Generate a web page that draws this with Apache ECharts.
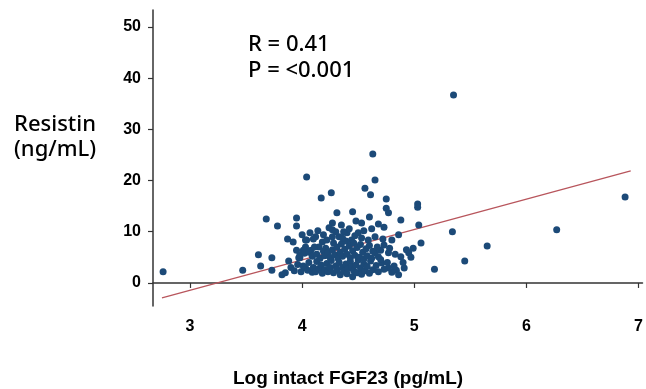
<!DOCTYPE html>
<html>
<head>
<meta charset="utf-8">
<script src="https://cdn.jsdelivr.net/npm/echarts@6/dist/echarts.min.js"></script>
<style>html,body{margin:0;padding:0;background:#fff;}#c{width:646px;height:389px;}</style>
</head>
<body>
<div id="c"></div>
<script>
var xTicks = [3, 4, 5, 6, 7];
var yTicks = [0, 10, 20, 30, 40, 50];

var fgf23 = [
  2.76, 3.47, 3.61, 3.63, 3.68, 3.73, 3.73, 3.78, 3.82, 3.85, 3.88, 3.87, 3.92, 3.95, 3.95, 3.95, 3.97, 4.00, 4.03, 4.03,
  4.03, 4.04, 4.08, 4.09, 4.12, 4.17, 4.18, 4.26, 4.27, 4.27, 4.31, 4.35, 4.45, 4.48, 4.53, 4.56, 4.60, 4.61, 4.63, 4.65,
  4.73, 4.75, 4.75, 4.77, 4.88, 5.03, 5.03, 5.04, 5.06, 4.99, 4.95, 4.97, 4.88, 4.91, 4.84, 4.86, 4.80, 4.77, 4.77, 4.80,
  4.86, 4.73, 4.70, 4.68, 4.65, 4.59, 4.65, 4.53, 4.50, 4.44, 4.40, 4.37, 4.33, 4.30, 4.27, 4.28, 4.22, 4.21, 4.15, 4.11,
  4.04, 4.01, 3.98, 5.18, 5.34, 5.35, 5.45, 5.65, 6.27, 6.88,
  3.90, 3.93, 3.96, 3.99, 4.01, 4.05, 4.06, 4.10, 4.12, 4.13, 4.15, 4.17, 4.18, 4.20, 4.22, 4.23, 4.25, 4.26, 4.28, 4.30,
  4.31, 4.33, 4.34, 4.36, 4.37, 4.39, 4.40, 4.41, 4.43, 4.44, 4.45, 4.46, 4.48, 4.49, 4.50, 4.52, 4.53, 4.55, 4.56, 4.58,
  4.60, 4.61, 4.63, 4.66, 4.68, 4.71, 4.73, 4.76, 4.82, 4.90,
  3.98, 4.02, 4.06, 4.09, 4.13, 4.16, 4.19, 4.20, 4.23, 4.25, 4.27, 4.29, 4.31, 4.32, 4.34, 4.35, 4.36, 4.38, 4.39, 4.40,
  4.42, 4.43, 4.45, 4.46, 4.47, 4.49, 4.51, 4.52, 4.54, 4.55, 4.57, 4.58, 4.60, 4.62, 4.63, 4.67, 4.70, 4.72, 4.78, 4.83, 4.93,
  4.07, 4.10, 4.14, 4.19, 4.24, 4.36, 4.42, 4.47, 4.55, 4.62, 4.68
];
var resistin = [
  2.2, 2.5, 5.5, 3.3, 12.5, 4.9, 2.5, 11.1, 1.6, 2.0, 4.3, 8.6, 8.0, 12.7, 11.1, 6.4, 4.9, 9.4, 8.4, 7.0,
  2.9, 20.7, 6.4, 2.1, 9.0, 16.6, 8.0, 17.6, 11.7, 10.4, 13.7, 11.3, 13.9, 12.1, 11.7, 18.5, 12.9, 17.2, 25.2, 20.1,
  10.9, 16.4, 14.6, 13.7, 12.3, 15.4, 14.8, 11.3, 7.8, 6.8, 5.9, 5.0, 5.1, 2.9, 2.5, 1.6, 2.1, 2.9, 5.9, 8.4,
  9.4, 7.4, 6.4, 5.1, 5.9, 8.4, 9.0, 8.8, 9.8, 8.4, 9.8, 10.0, 9.0, 10.0, 9.0, 7.8, 8.4, 6.8, 7.0, 7.0,
  8.4, 6.4, 4.9, 2.7, 10.0, 36.7, 4.3, 7.2, 10.4, 16.8,
  3.0, 2.4, 3.6, 2.2, 3.3, 2.5, 4.0, 3.0, 2.2, 4.2, 2.8, 3.5, 1.9, 2.6, 3.8, 2.2, 3.0, 4.4, 2.0, 3.3,
  2.6, 4.0, 1.6, 3.0, 2.3, 3.7, 1.8, 2.8, 4.2, 3.1, 1.2, 2.4, 3.5, 2.0, 4.5, 2.9, 1.7, 3.7, 2.4, 3.2,
  1.9, 4.3, 2.6, 3.4, 2.2, 3.9, 2.7, 4.0, 3.3, 4.0,
  5.5, 5.8, 6.0, 5.2, 5.6, 4.8, 6.2, 5.3, 5.9, 4.9, 6.5, 5.5, 7.0, 4.8, 6.0, 7.6, 5.2, 6.6, 8.2, 5.6,
  7.2, 4.9, 6.3, 7.8, 5.4, 6.9, 5.0, 7.5, 6.0, 4.7, 6.7, 5.3, 7.3, 4.8, 6.2, 7.0, 4.6, 8.6, 6.8, 5.6, 6.5,
  9.8, 8.6, 10.2, 9.4, 10.8, 8.8, 10.6, 9.2, 10.2, 10.6, 11.5
];
var fitX = [2.75, 6.93];
var fitY = [-2.9, 21.9];
var statLines = ['R = 0.41', 'P = <0.001'];
var yTitle = ['Resistin', '(ng/mL)'];
var xTitle = 'Log intact FGF23 (pg/mL)';

var points = fgf23.map(function (x, i) { return [x, resistin[i]]; });
var fitLine = fitX.map(function (x, i) { return [x, fitY[i]]; });

var chart = echarts.init(document.getElementById('c'));
var axisFont = { fontFamily: 'Liberation Sans, Arial, sans-serif', fontWeight: 'bold', fontSize: 16, color: '#000' };
chart.setOption({
  animation: false,
  backgroundColor: '#ffffff',
  grid: { left: 153, right: 0, top: 10, bottom: 83, containLabel: false },
  xAxis: {
    type: 'value', min: 2.67, max: 7.035,
    splitLine: { show: false },
    axisLine: { lineStyle: { color: '#333', width: 1.5 } },
    axisTick: { show: true, length: 5, customValues: xTicks, lineStyle: { color: '#333', width: 1.2 } },
    axisLabel: Object.assign({ customValues: xTicks, margin: 13 }, axisFont)
  },
  yAxis: {
    type: 'value', min: -4.5, max: 53.3,
    splitLine: { show: false },
    axisLine: { show: true, lineStyle: { color: '#333', width: 1.5 } },
    axisTick: { show: true, length: 5, customValues: yTicks, lineStyle: { color: '#333', width: 1.2 } },
    axisLabel: Object.assign({ customValues: yTicks, margin: 12 }, axisFont)
  },
  series: [
    {
      type: 'line', data: fitLine, showSymbol: false, symbol: 'none',
      lineStyle: { color: '#b8555c', width: 1.2 }, z: 1
    },
    {
      type: 'scatter', data: points, symbol: 'circle', symbolSize: 7,
      itemStyle: { color: '#1c4a78', opacity: 1 }, z: 2
    }
  ],
  graphic: [
    { type: 'text', left: 248, top: 34, style: { text: statLines[0], font: '500 22px "Noto Sans", "Liberation Sans", sans-serif', fill: '#000' } },
    { type: 'text', left: 248, top: 60, style: { text: statLines[1], font: '500 22px "Noto Sans", "Liberation Sans", sans-serif', fill: '#000' } },
    { type: 'text', left: 14, top: 114, style: { text: yTitle[0], font: '500 22px "Noto Sans", sans-serif', fill: '#000' } },
    { type: 'text', left: 14, top: 139, style: { text: yTitle[1], font: '500 22px "Noto Sans", sans-serif', fill: '#000' } },
    { type: 'text', left: 233, top: 369, style: { text: xTitle, font: 'bold 19px "Liberation Sans", Arial, sans-serif', fill: '#000' } }
  ]
});
</script>
</body>
</html>
